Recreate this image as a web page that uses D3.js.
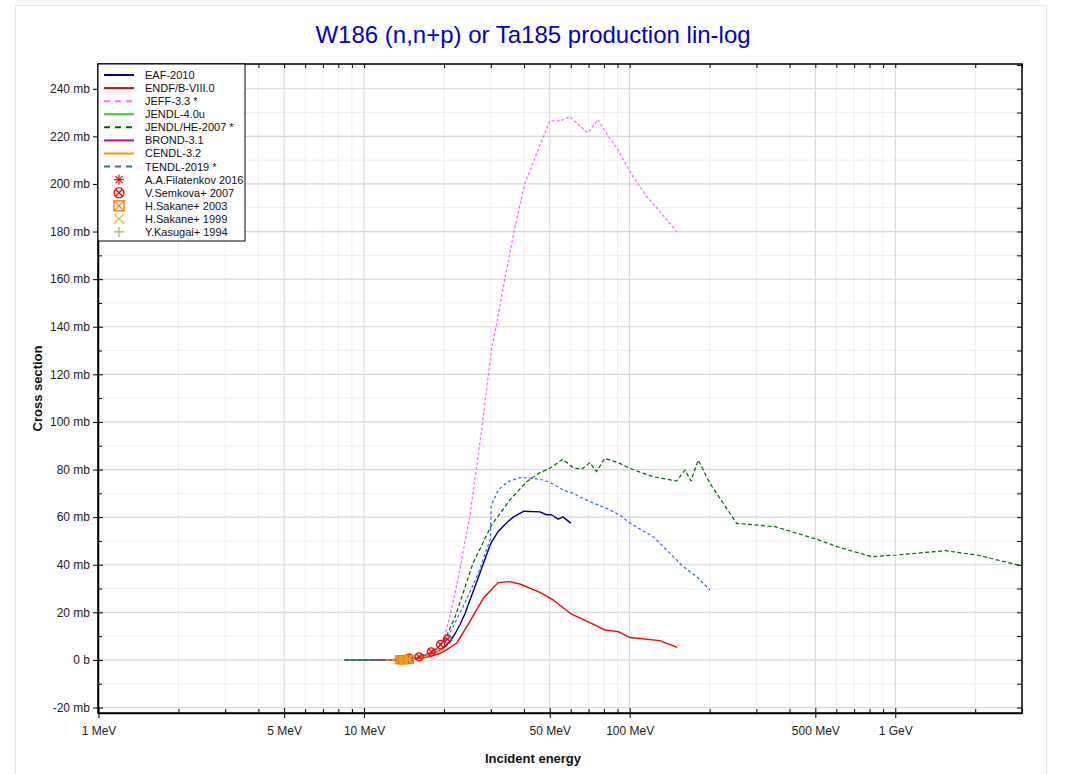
<!DOCTYPE html>
<html>
<head>
<meta charset="utf-8">
<script src="https://cdn.jsdelivr.net/npm/d3@7"></script>
<style>
  html, body { margin: 0; padding: 0; background: #fff; }
  svg { display: block; font-family: Arial, "Liberation Sans", sans-serif; }
</style>
</head>
<body>
<svg id="chart" width="1067" height="774"></svg>
<script>
// ---------------- DATA (energy in MeV, cross section in mb) ----------------
const titleText = "W186 (n,n+p) or Ta185 production lin-log";
const xAxisTitle = "Incident energy";
const yAxisTitle = "Cross section";

const energyMajorTicks = [1, 5, 10, 50, 100, 500, 1000];
const energyMajorLabels = ["1 MeV", "5 MeV", "10 MeV", "50 MeV", "100 MeV", "500 MeV", "1 GeV"];
const csMajorTicks = [-20, 0, 20, 40, 60, 80, 100, 120, 140, 160, 180, 200, 220, 240];
const csMajorLabels = ["-20 mb", "0 b", "20 mb", "40 mb", "60 mb", "80 mb", "100 mb", "120 mb",
  "140 mb", "160 mb", "180 mb", "200 mb", "220 mb", "240 mb"];
const csMinorTicks = [-10, 10, 30, 50, 70, 90, 110, 130, 150, 170, 190, 210, 230, 250];

const eaf2010 = [[8.45,0],[10,0],[12,0.03],[14,0.3],[15,0.6],[16,1.0],[17,1.7],[18,2.6],[19,3.8],
  [20,5.2],[21,7.5],[22,11],[23,15],[24,19.5],[25,25],[26,30],[27.5,37.5],[30,49],[32,54],
  [34.4,57.6],[36.4,60],[40,62.5],[45.9,62.2],[48.6,61],[50.8,61],[53.8,59.2],[56.1,60.1],[60,57.5]];
const endfb80 = [[8.45,0],[12,0.01],[14,0.2],[16,0.6],[18,1.6],[19.3,2.8],[20,3.6],[22.3,7],
  [25,16.1],[28.1,25.9],[32,32.5],[35.4,32.9],[38.6,31.9],[45.9,28.4],[51.5,25.2],[60.4,19.2],
  [72.8,15],[80.6,12.6],[90.5,11.9],[100.2,9.4],[130,8.1],[151,5.3]];
const jeff33 = [[8.45,0],[12,0],[14,0.1],[16,0.6],[18,2.2],[19,4.5],[20.1,9.8],[21,18.2],[22,28],
  [22.9,37.8],[25,60.2],[27.7,96.6],[30.2,131],[31.5,140.8],[33.9,160.4],[36.9,181.4],[40.3,200.3],
  [45.1,214],[50,226.5],[55,226.5],[59.5,228.3],[64,225],[69.6,221.5],[75.9,227],[82,221],
  [90.5,214.3],[100.2,205.2],[115.8,194.7],[130,188.4],[150.3,180]];
const jendl40u = [[8.45,0],[12,0.02],[14,0.25],[16,0.9],[18,2.4],[20,5.0]];
const jendlhe2007 = [[8.45,0],[12,0.02],[14,0.3],[16,1.1],[18,3.2],[19,5.2],[20.4,9.8],[22,18],
  [22.9,23.8],[25.7,40.6],[30.2,56.7],[35.4,67.2],[40.9,74.9],[45.9,78.7],[50,80.5],[55.9,84.3],
  [61.2,80.8],[65.9,80.1],[70.8,82.9],[75,79.1],[80.6,84.7],[91.8,82.6],[100.2,80.5],[112.5,78.4],
  [122.6,77],[150.2,75.2],[161.4,79.8],[170.1,75.2],[181.2,84],[200.5,74.2],[252.7,57.4],
  [352.5,56],[506,50.7],[619,47.2],[815,43.4],[1013,44.1],[1540,45.9],[2028,44.1],[3000,39.5]];
const brond31 = [[11,0],[12,0.02],[14,0.25],[16,0.8],[18,2.2],[20,4.8]];
const cendl32 = [[12,0],[14,0.2],[16,0.8],[18,2.2],[20,4.6]];
const tendl2019 = [[8.45,0],[12,0.02],[14,0.3],[16,1.2],[18,3.4],[19,5.4],[20.7,9.8],[23.6,22.4],
  [26.9,36.4],[29.9,51],[30.1,65],[32,71.4],[34.8,74.9],[38.6,76.6],[43.3,76.3],[47.2,75.6],
  [50.8,74.2],[56.1,71.4],[61.2,70],[70.8,66.5],[81.8,63.7],[91.8,60.9],[100.2,57.5],[122.6,51.8],
  [137.8,46.2],[159.1,39.2],[178.6,35],[200.5,29.4]];

const filatenkov2016 = [[13.5,0.3],[13.9,0.4],[14.3,0.5],[14.7,0.6]];
const semkova2007 = [[14.8,0.7],[16.1,1.3],[17.9,3.4],[19.4,6.5],[20.6,8.7]];
const sakane2003 = [[13.6,0.05],[14.0,0.1],[14.4,0.15],[14.8,0.2]];
const sakane1999 = [[13.5,0.05],[14.1,0.1],[14.7,0.2]];
const kasugai1994 = [[13.6,0.1],[14.3,0.15],[14.9,0.25]];

const lineSeries = [
  {name: "EAF-2010", data: eaf2010, color: "#000080", dash: null, width: 1.4},
  {name: "ENDF/B-VIII.0", data: endfb80, color: "#ff0000", dash: null, width: 1.4},
  {name: "JEFF-3.3 *", data: jeff33, color: "#ff66ff", dash: "3,2", width: 1.2},
  {name: "JENDL-4.0u", data: jendl40u, color: "#33cc33", dash: null, width: 1.4},
  {name: "JENDL/HE-2007 *", data: jendlhe2007, color: "#006600", dash: "4,2.5", width: 1.2},
  {name: "BROND-3.1", data: brond31, color: "#cc0099", dash: null, width: 1.4},
  {name: "CENDL-3.2", data: cendl32, color: "#ff9900", dash: null, width: 1.4},
  {name: "TENDL-2019 *", data: tendl2019, color: "#3366ee", dash: "3,2.5", width: 1.2}
];
const pointSeries = [
  {name: "A.A.Filatenkov 2016", data: filatenkov2016, color: "#ff0000", shape: "asterisk"},
  {name: "V.Semkova+ 2007", data: semkova2007, color: "#ff0000", shape: "circlex"},
  {name: "H.Sakane+ 2003", data: sakane2003, color: "#ff7700", shape: "squarex"},
  {name: "H.Sakane+ 1999", data: sakane1999, color: "#ffaa00", shape: "x"},
  {name: "Y.Kasugai+ 1994", data: kasugai1994, color: "#b8a870", shape: "plus"}
];

// ---------------- LAYOUT ----------------
const svg = d3.select("#chart");
const L = 98, R = 1022, T = 64, B = 713;
const x = d3.scaleLog().domain([1, 3000]).range([L + 0.5, R]);
const y = d3.scaleLinear().domain([-22.3, 250.4]).range([B, T]);

// outer faint border
svg.append("rect").attr("x", 15.5).attr("y", 5.5).attr("width", 1031).attr("height", 790)
  .attr("fill", "none").attr("stroke", "#e8e8e8");

// title
svg.append("text").attr("x", 533).attr("y", 43).attr("text-anchor", "middle")
  .attr("font-size", 24).attr("fill", "#0000cc").text(titleText);

// minor tick values on energy
const energyMinor = [];
[1, 10, 100, 1000].forEach(d => { for (let k = 1; k < 10; k++) { const v = d * k; if (v <= 3000 && !energyMajorTicks.includes(v)) energyMinor.push(v); } });

// grid
const grid = svg.append("g");
grid.selectAll(".xgm").data(energyMinor).join("line")
  .attr("x1", d => x(d)).attr("x2", d => x(d)).attr("y1", T).attr("y2", B)
  .attr("stroke", "#efefef").attr("stroke-width", 1);
grid.selectAll(".ygm").data(csMinorTicks.filter(v => y(v) > T)).join("line")
  .attr("x1", L).attr("x2", R).attr("y1", d => y(d)).attr("y2", d => y(d))
  .attr("stroke", "#efefef").attr("stroke-width", 1);
grid.selectAll(".xgM").data(energyMajorTicks).join("line")
  .attr("x1", d => x(d)).attr("x2", d => x(d)).attr("y1", T).attr("y2", B)
  .attr("stroke", "#d4d4d4").attr("stroke-width", 1);
grid.selectAll(".ygM").data(csMajorTicks).join("line")
  .attr("x1", L).attr("x2", R).attr("y1", d => y(d)).attr("y2", d => y(d))
  .attr("stroke", "#d8d8d8").attr("stroke-width", 1.2);

// clip
svg.append("defs").append("clipPath").attr("id", "plotclip")
  .append("rect").attr("x", L).attr("y", T).attr("width", R - L).attr("height", B - T);
const plot = svg.append("g").attr("clip-path", "url(#plotclip)");

const line = d3.line().x(d => x(d[0])).y(d => y(d[1]));
lineSeries.forEach(s => {
  plot.append("path").datum(s.data).attr("d", line)
    .attr("fill", "none").attr("stroke", s.color).attr("stroke-width", s.width)
    .attr("stroke-dasharray", s.dash).attr("stroke-linejoin", "round");
});

function drawMarker(g, shape, color, cx, cy, r) {
  if (shape === "asterisk") {
    for (let a = 0; a < 4; a++) {
      const ang = a * Math.PI / 4;
      g.append("line").attr("x1", cx - r * Math.cos(ang)).attr("y1", cy - r * Math.sin(ang))
        .attr("x2", cx + r * Math.cos(ang)).attr("y2", cy + r * Math.sin(ang))
        .attr("stroke", color).attr("stroke-width", 1.2);
    }
  } else if (shape === "circlex") {
    g.append("circle").attr("cx", cx).attr("cy", cy).attr("r", r).attr("fill", "none")
      .attr("stroke", color).attr("stroke-width", 1.3);
    const k = r * 0.7;
    g.append("path").attr("d", `M${cx - k},${cy - k}L${cx + k},${cy + k}M${cx - k},${cy + k}L${cx + k},${cy - k}`)
      .attr("stroke", color).attr("stroke-width", 1.3);
  } else if (shape === "squarex") {
    g.append("rect").attr("x", cx - r).attr("y", cy - r).attr("width", 2 * r).attr("height", 2 * r)
      .attr("fill", "none").attr("stroke", color).attr("stroke-width", 1.3);
    g.append("path").attr("d", `M${cx - r},${cy - r}L${cx + r},${cy + r}M${cx - r},${cy + r}L${cx + r},${cy - r}`)
      .attr("stroke", color).attr("stroke-width", 1.2);
  } else if (shape === "x") {
    g.append("path").attr("d", `M${cx - r},${cy - r}L${cx + r},${cy + r}M${cx - r},${cy + r}L${cx + r},${cy - r}`)
      .attr("stroke", color).attr("stroke-width", 1.2);
  } else if (shape === "plus") {
    g.append("path").attr("d", `M${cx - r},${cy}L${cx + r},${cy}M${cx},${cy - r}L${cx},${cy + r}`)
      .attr("stroke", color).attr("stroke-width", 1.2);
  }
}
pointSeries.forEach(s => {
  s.data.forEach(d => drawMarker(plot, s.shape, s.color, x(d[0]), y(d[1]), 4));
});

// axes
const axB = d3.axisBottom(x).tickValues(energyMajorTicks)
  .tickFormat((d, i) => energyMajorLabels[i]).tickSizeInner(5).tickSizeOuter(0).tickPadding(8);
const gB = svg.append("g").attr("transform", `translate(0,${B})`).call(axB);
gB.selectAll(".tick line").attr("y1", -5);
const axBm = d3.axisBottom(x).tickValues(energyMinor).tickFormat("").tickSizeInner(-4).tickSizeOuter(0);
svg.append("g").attr("transform", `translate(0,${B})`).call(axBm).select(".domain").remove();
const axT = d3.axisTop(x).tickValues(energyMajorTicks.concat(energyMinor)).tickFormat("").tickSizeInner(-4).tickSizeOuter(0);
svg.append("g").attr("transform", `translate(0,${T})`).call(axT).select(".domain").remove();

const axL = d3.axisLeft(y).tickValues(csMajorTicks).tickFormat((d, i) => csMajorLabels[i])
  .tickSizeInner(5).tickSizeOuter(0).tickPadding(3);
const gL = svg.append("g").attr("transform", `translate(${L},0)`).call(axL);
gL.selectAll(".tick line").attr("x1", 5);
const axLm = d3.axisLeft(y).tickValues(csMinorTicks.filter(v => y(v) > T)).tickFormat("").tickSizeInner(-4).tickSizeOuter(0);
svg.append("g").attr("transform", `translate(${L},0)`).call(axLm).select(".domain").remove();
const axR = d3.axisRight(y).tickValues(csMajorTicks.concat(csMinorTicks.filter(v => y(v) > T))).tickFormat("").tickSizeInner(-5).tickSizeOuter(0);
svg.append("g").attr("transform", `translate(${R},0)`).call(axR).select(".domain").remove();

svg.selectAll(".tick text").attr("font-size", 12).attr("fill", "#222").attr("font-family", "Arial, 'Liberation Sans', sans-serif");
svg.selectAll(".tick line").attr("stroke", "#000");
svg.selectAll(".domain").attr("stroke", "#000").attr("stroke-width", 1.5);

// frame
svg.append("rect").attr("x", L).attr("y", T).attr("width", R - L).attr("height", B - T)
  .attr("fill", "none").attr("stroke", "#000").attr("stroke-width", 1.5);

// axis titles
svg.append("text").attr("x", 533).attr("y", 763).attr("text-anchor", "middle")
  .attr("font-size", 13).attr("font-weight", "bold").attr("fill", "#111").text(xAxisTitle);
svg.append("text").attr("transform", `translate(42,${(T + B) / 2}) rotate(-90)`).attr("text-anchor", "middle")
  .attr("font-size", 13).attr("font-weight", "bold").attr("fill", "#111").text(yAxisTitle);

// legend
const lg = svg.append("g");
lg.append("rect").attr("x", L).attr("y", T).attr("width", 147).attr("height", 177)
  .attr("fill", "#fff").attr("stroke", "#000").attr("stroke-width", 1);
const rowY = i => 75 + i * 13.08;
lineSeries.forEach((s, i) => {
  lg.append("line").attr("x1", 104).attr("x2", 134).attr("y1", rowY(i)).attr("y2", rowY(i))
    .attr("stroke", s.color).attr("stroke-width", 2).attr("stroke-dasharray", s.dash ? "6,5" : null);
  lg.append("text").attr("x", 145).attr("y", rowY(i) + 4).attr("font-size", 11).attr("fill", "#111").text(s.name);
});
pointSeries.forEach((s, j) => {
  const i = j + lineSeries.length;
  drawMarker(lg, s.shape, s.color, 119, rowY(i), 5);
  lg.append("text").attr("x", 145).attr("y", rowY(i) + 4).attr("font-size", 11).attr("fill", "#111").text(s.name);
});
</script>
</body>
</html>
